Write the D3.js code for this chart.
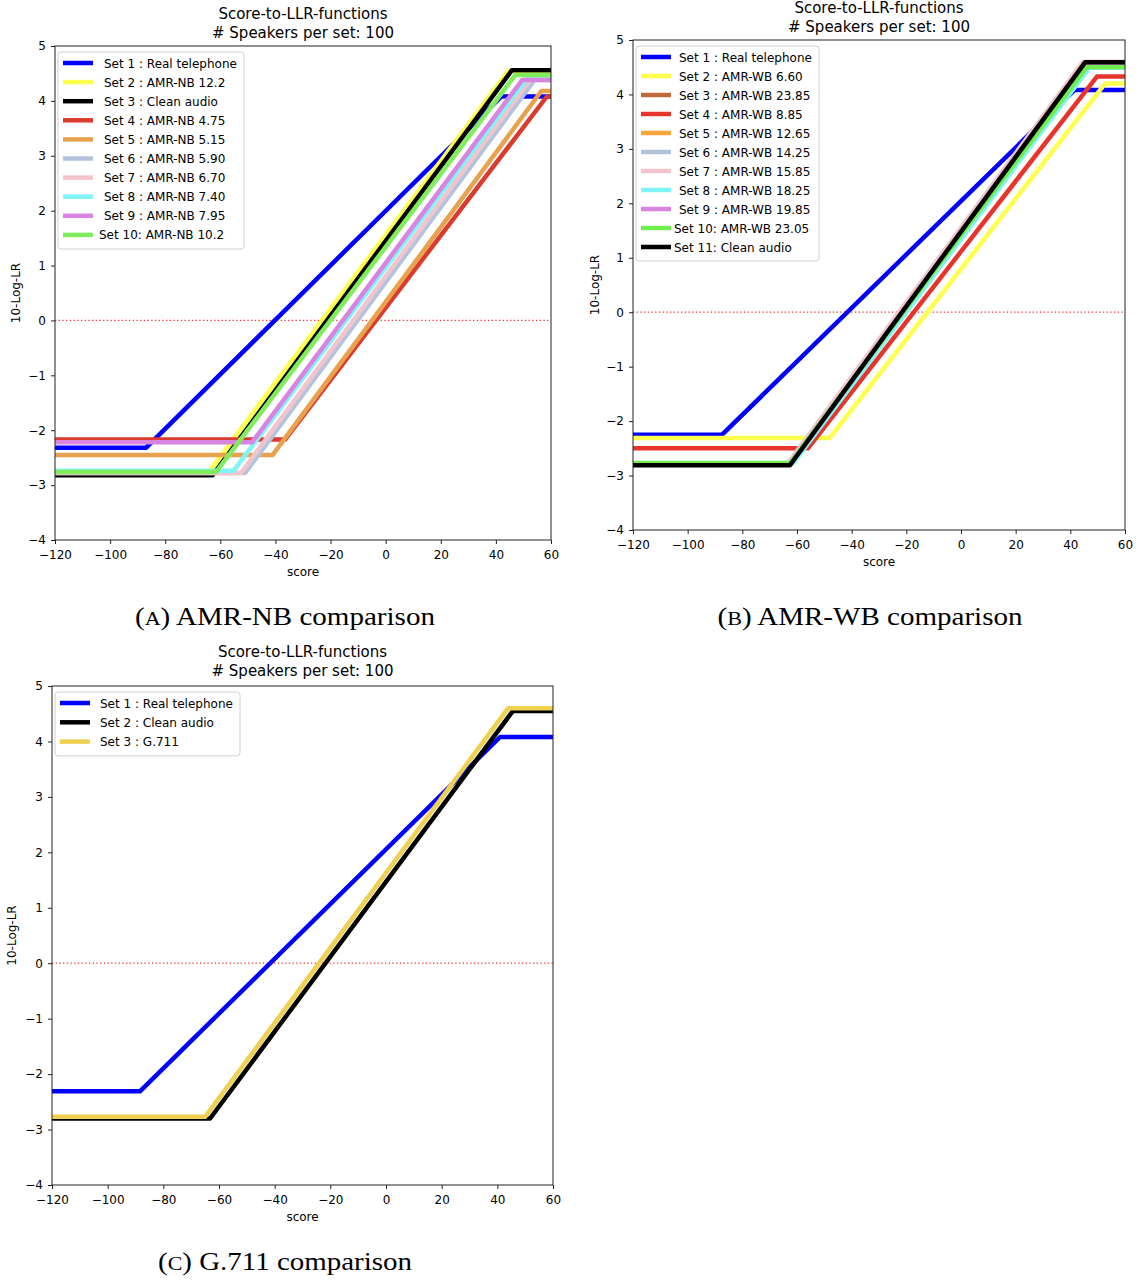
<!DOCTYPE html>
<html>
<head>
<meta charset="utf-8">
<script src="https://cdn.jsdelivr.net/npm/d3@7"></script>
<style>
body { margin: 0; background: #fff; }
text { font-family: "DejaVu Sans", sans-serif; fill: #000; }
.caption { font-family: "Liberation Serif", "DejaVu Serif", serif; }
</style>
</head>
<body>
<svg id="fig" width="1140" height="1282"></svg>
<script>
const xTicks = [-120, -100, -80, -60, -40, -20, 0, 20, 40, 60]
const yTicks = [-4, -3, -2, -1, 0, 1, 2, 3, 4, 5]
const titleLines = ['Score-to-LLR-functions', '# Speakers per set: 100']

// every set is a flat / ramp / flat curve:
// low plateau until riseAt, ramp, high plateau from topAt on

// (A) AMR-NB
const nbLabels = ['Set 1 : Real telephone', 'Set 2 : AMR-NB 12.2', 'Set 3 : Clean audio', 'Set 4 : AMR-NB 4.75',
  'Set 5 : AMR-NB 5.15', 'Set 6 : AMR-NB 5.90', 'Set 7 : AMR-NB 6.70', 'Set 8 : AMR-NB 7.40',
  'Set 9 : AMR-NB 7.95', 'Set 10: AMR-NB 10.2']
const nbColors = ['#0000ff', '#ffff4d', '#000000', '#db3b2e', '#e8a24e', '#b3c3de', '#f2c4cc', '#80f4f6', '#d884e0', '#80ee5c']
const nbLow = [-2.32, -2.78, -2.82, -2.17, -2.45, -2.78, -2.78, -2.74, -2.22, -2.76]
const nbRiseAt = [-87, -64.5, -62.8, -36.5, -41, -51, -52.5, -55.2, -48.5, -61.5]
const nbHigh = [4.08, 4.55, 4.56, 4.08, 4.18, 4.38, 4.42, 4.42, 4.38, 4.47]
const nbTopAt = [42, 44.5, 45.8, 58.5, 56.5, 54, 53, 51.5, 49.5, 47]

// (B) AMR-WB
const wbLabels = ['Set 1 : Real telephone', 'Set 2 : AMR-WB 6.60', 'Set 3 : AMR-WB 23.85', 'Set 4 : AMR-WB 8.85',
  'Set 5 : AMR-WB 12.65', 'Set 6 : AMR-WB 14.25', 'Set 7 : AMR-WB 15.85', 'Set 8 : AMR-WB 18.25',
  'Set 9 : AMR-WB 19.85', 'Set 10: AMR-WB 23.05', 'Set 11: Clean audio']
const wbColors = ['#0000ff', '#ffff4d', '#c0693a', '#e8352b', '#f5a53a', '#b3c3de', '#f2c4cc', '#80f4f6', '#d884e0', '#70ee50', '#000000']
const wbLow = [-2.25, -2.31, -2.8, -2.5, -2.8, -2.8, -2.79, -2.78, -2.8, -2.77, -2.81]
const wbRiseAt = [-87.4, -48, -62.5, -56, -62.3, -62.5, -63.5, -61.5, -62.5, -62.5, -62.6]
const wbHigh = [4.08, 4.2, 4.58, 4.33, 4.57, 4.57, 4.6, 4.49, 4.57, 4.5, 4.59]
const wbTopAt = [41.5, 52.7, 45.5, 49.8, 45.6, 45.5, 44.6, 47, 45.6, 46, 45.4]

// (C) G.711
const g7Labels = ['Set 1 : Real telephone', 'Set 2 : Clean audio', 'Set 3 : G.711']
const g7Colors = ['#0000ff', '#000000', '#f0d050']
const g7Low = [-2.31, -2.8, -2.77]
const g7RiseAt = [-88.4, -63.2, -65]
const g7High = [4.08, 4.55, 4.6]
const g7TopAt = [41, 45.6, 43.9]

const svg = d3.select('#fig')

function makeSets (labels, colors, low, riseAt, high, topAt) {
  return labels.map((label, i) => ({
    label,
    color: colors[i],
    pts: [[xTicks[0], low[i]], [riseAt[i], low[i]], [topAt[i], high[i]], [xTicks[xTicks.length - 1], high[i]]]
  }))
}

function drawPanel (cfg) {
  const { left, top, width, height, sets, id } = cfg
  const g = svg.append('g')

  const x = d3.scaleLinear().domain([-120, 60]).range([left, left + width])
  const y = d3.scaleLinear().domain([-4, 5]).range([top + height, top])

  g.append('clipPath').attr('id', id)
    .append('rect').attr('x', left).attr('y', top).attr('width', width).attr('height', height)

  // titles
  titleLines.forEach((t, i) => {
    g.append('text')
      .attr('x', left + width / 2)
      .attr('y', cfg.titleY + i * 19)
      .attr('text-anchor', 'middle')
      .style('font-size', '15px')
      .text(t)
  })

  // zero reference
  g.append('line')
    .attr('x1', left).attr('x2', left + width)
    .attr('y1', y(0)).attr('y2', y(0))
    .attr('stroke', '#f03030')
    .attr('stroke-width', 1.2)
    .attr('stroke-dasharray', '1.3,2.4')

  const line = d3.line().x(d => x(d[0])).y(d => y(d[1]))
  const lines = g.append('g').attr('clip-path', `url(#${id})`)
  sets.forEach(s => {
    lines.append('path')
      .attr('d', line(s.pts))
      .attr('fill', 'none')
      .attr('stroke', s.color)
      .attr('stroke-width', 4.5)
      .attr('stroke-linejoin', 'round')
  })

  // axes
  const xAxis = g.append('g')
    .attr('transform', `translate(0,${top + height})`)
    .call(d3.axisBottom(x).tickValues(xTicks).tickSize(4).tickPadding(6))
  const yAxis = g.append('g')
    .attr('transform', `translate(${left},0)`)
    .call(d3.axisLeft(y).tickValues(yTicks).tickSize(4).tickPadding(5))
  ;[xAxis, yAxis].forEach(a => {
    a.selectAll('text').style('font-size', '12px').style('font-family', '"DejaVu Sans", sans-serif').attr('fill', '#000')
    a.selectAll('line').attr('stroke', '#222')
    a.select('.domain').remove()
  })

  g.append('rect')
    .attr('x', left).attr('y', top).attr('width', width).attr('height', height)
    .attr('fill', 'none').attr('stroke', '#222').attr('stroke-width', 1)

  g.append('text')
    .attr('x', left + width / 2)
    .attr('y', top + height + 36)
    .attr('text-anchor', 'middle')
    .style('font-size', '12px')
    .text('score')

  g.append('text')
    .attr('transform', `translate(${left - cfg.ylabOff},${top + height / 2}) rotate(-90)`)
    .attr('text-anchor', 'middle')
    .style('font-size', '12px')
    .text('10-Log-LR')

  // legend
  const rowH = cfg.rowH
  const lg = g.append('g').attr('transform', `translate(${left + 3},${top + 6})`)
  lg.append('rect')
    .attr('width', cfg.legendW).attr('height', sets.length * rowH + 6)
    .attr('rx', 3)
    .attr('fill', '#fff').attr('fill-opacity', 0.85)
    .attr('stroke', '#d0d0d0')
  sets.forEach((s, i) => {
    const ry = 11 + i * rowH
    lg.append('line')
      .attr('x1', 5).attr('x2', 35)
      .attr('y1', ry).attr('y2', ry)
      .attr('stroke', s.color).attr('stroke-width', 4.5)
    lg.append('text')
      .attr('x', s.label[5] !== ' ' ? cfg.textX - 5 : cfg.textX)
      .attr('y', ry + 4.5)
      .style('font-size', '12px')
      .text(s.label)
  })

  // caption under the panel
  const cap = g.append('text')
    .attr('class', 'caption')
    .attr('x', cfg.capX)
    .attr('y', cfg.capY)
    .attr('text-anchor', 'middle')
    .attr('textLength', cfg.capW)
    .attr('lengthAdjust', 'spacingAndGlyphs')
    .style('font-size', '25px')
  cap.append('tspan').text('(')
  cap.append('tspan').style('font-size', '19px').text(cfg.capLetter)
  cap.append('tspan').text(') ' + cfg.caption)
}

drawPanel({
  id: 'clipA', left: 55, top: 46, width: 496, height: 494,
  sets: makeSets(nbLabels, nbColors, nbLow, nbRiseAt, nbHigh, nbTopAt),
  titleY: 19, ylabOff: 35, legendW: 186, rowH: 19.1, textX: 46,
  capX: 285, capY: 625, capW: 300, capLetter: 'A', caption: 'AMR-NB comparison'
})

drawPanel({
  id: 'clipB', left: 633, top: 40, width: 492, height: 490,
  sets: makeSets(wbLabels, wbColors, wbLow, wbRiseAt, wbHigh, wbTopAt),
  titleY: 13, ylabOff: 34, legendW: 183, rowH: 19, textX: 43,
  capX: 870, capY: 625, capW: 305, capLetter: 'B', caption: 'AMR-WB comparison'
})

drawPanel({
  id: 'clipC', left: 52, top: 686, width: 501, height: 499,
  sets: makeSets(g7Labels, g7Colors, g7Low, g7RiseAt, g7High, g7TopAt),
  titleY: 657, ylabOff: 36, legendW: 185, rowH: 19.3, textX: 45,
  capX: 285, capY: 1270, capW: 254, capLetter: 'C', caption: 'G.711 comparison'
})
</script>
</body>
</html>
